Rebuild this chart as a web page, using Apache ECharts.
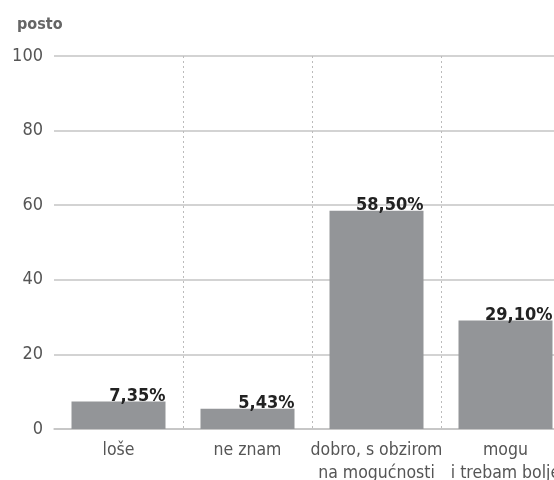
<!DOCTYPE html>
<html><head><meta charset="utf-8">
<script src="https://cdn.jsdelivr.net/npm/echarts@6/dist/echarts.min.js"></script>
<style>html,body{margin:0;padding:0;background:#fff}#c{width:554px;height:480px}</style>
</head><body><div id="c"></div>
<script>
const categories = ['loše', 'ne znam', 'dobro, s obzirom\nna mogućnosti', 'mogu\ni trebam bolje'];
const values = [7.35, 5.43, 58.50, 29.10];
const valueLabels = ['7,35%', '5,43%', '58,50%', '29,10%'];
const yTicks = [0, 20, 40, 60, 80, 100];
const F = '"DejaVu Sans Condensed", "Roboto", sans-serif';
const chart = echarts.init(document.getElementById('c'));
chart.setOption({
  animation: false,
  title: { text: 'posto', left: 12, top: 12, textStyle: { fontFamily: F, fontSize: 16, fontWeight: 'bold', color: '#666' } },
  grid: { left: 54, top: 56, bottom: 51, right: -16, containLabel: false, outerBoundsMode: 'none' },
  xAxis: {
    type: 'category', data: categories,
    axisLine: { lineStyle: { color: '#c4c4c4', width: 1.5 } },
    axisTick: { show: false },
    axisLabel: { fontFamily: F, fontSize: 17.5, color: '#555', lineHeight: 23, margin: 10, interval: 0 },
    splitLine: { show: true, interval: (i) => i > 0, lineStyle: { color: '#bbb', type: [2, 3], width: 1 } }
  },
  yAxis: {
    type: 'value', min: 0, max: 100, interval: 20,
    axisLine: { show: false }, axisTick: { show: false },
    axisLabel: { fontFamily: F, fontSize: 18, color: '#555', margin: 11, formatter: (v) => yTicks.includes(v) ? String(v) : '' },
    splitLine: { lineStyle: { color: '#c4c4c4', width: 1.5 } }
  },
  series: [{
    type: 'bar', data: values, barWidth: 94,
    itemStyle: { color: '#939598' },
    label: {
      show: true, position: ['100%', 4], align: 'right', verticalAlign: 'bottom',
      fontFamily: F, fontSize: 18, fontWeight: 'bold', color: '#222',
      formatter: (p) => valueLabels[p.dataIndex]
    }
  }]
});
</script></body></html>
